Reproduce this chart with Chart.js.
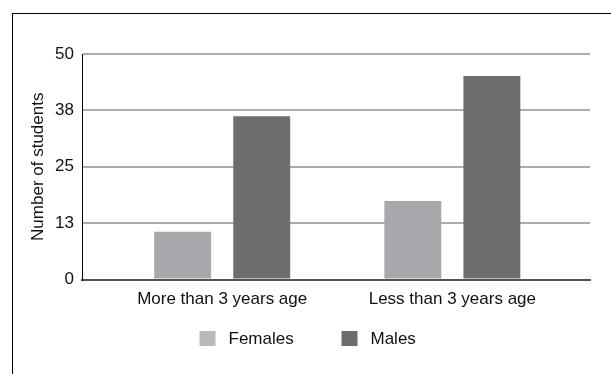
<!DOCTYPE html>
<html>
<head>
<meta charset="utf-8">
<script src="https://cdn.jsdelivr.net/npm/chart.js@4/dist/chart.umd.min.js"></script>
<style>
  html, body { margin: 0; padding: 0; background: #fff; }
  #wrap { position: relative; width: 611px; height: 374px; }
  #frame {
    position: absolute; left: 12px; top: 13px; right: 0; bottom: 0;
    border-top: 1.5px solid #000; border-left: 1.5px solid #000;
  }
  canvas { position: absolute; left: 0; top: 0; }
</style>
</head>
<body>
<div id="wrap">
  <div id="frame"></div>
  <canvas id="myChart" width="611" height="374"></canvas>
</div>
<script>
const categories = ['More than 3 years age', 'Less than 3 years age'];
const females = [10.6, 17.4];
const males = [36.2, 45.1];
const yTicks = [0, 12.5, 25, 37.5, 50];

const FONT = "'Liberation Sans', Arial, sans-serif";
const TEXT = '#111';

// legend drawn under the axis, items spaced like the original
const bottomLegend = {
  id: 'bottomLegend',
  afterDraw(chart) {
    const ctx = chart.ctx;
    const y = 331;
    let x = chart.width / 2 - 106;
    ctx.save();
    ctx.font = '17px ' + FONT;
    ctx.textBaseline = 'middle';
    chart.data.datasets.forEach((ds) => {
      ctx.fillStyle = ds.legendColor;
      ctx.fillRect(x, y, 16, 15);
      ctx.fillStyle = TEXT;
      ctx.fillText(ds.label, x + 29, y + 8);
      x += 142;
    });
    ctx.restore();
  },
};

const ctx = document.getElementById('myChart').getContext('2d');
new Chart(ctx, {
  type: 'bar',
  data: {
    datasets: [
      {
        label: 'Females',
        data: females.map((v, i) => ({ x: i, y: v })),
        backgroundColor: '#a7a8ab',
        legendColor: '#b8b9bd',
      },
      {
        label: 'Males',
        data: males.map((v, i) => ({ x: i, y: v })),
        backgroundColor: '#6c6d6f',
        legendColor: '#6c6d6f',
      },
    ],
  },
  options: {
    responsive: false,
    animation: false,
    layout: { padding: { left: 20, right: 21, top: 54, bottom: 60.5 } },
    datasets: { bar: { categoryPercentage: 0.687, barPercentage: 0.72 } },
    plugins: { legend: { display: false }, tooltip: { enabled: false } },
    scales: {
      x: {
        type: 'linear',
        min: -0.609,
        max: 1.598,
        offset: false,
        grid: { display: false },
        border: { color: '#555', width: 2 },
        afterBuildTicks: (s) => { s.ticks = categories.map((c, i) => ({ value: i })); },
        afterFit: (s) => { s.height = 34; },
        ticks: {
          autoSkip: false,
          maxRotation: 0,
          padding: 2,
          color: TEXT,
          font: { family: FONT, size: 17 },
          callback: (v) => categories[v] ?? '',
        },
      },
      y: {
        min: 0,
        max: 50,
        afterBuildTicks: (s) => { s.ticks = yTicks.map((v) => ({ value: v })); },
        afterFit: (s) => { s.width = 62; },
        grid: { color: '#acacb0', lineWidth: 2, drawTicks: false },
        border: { color: '#000', width: 1 },
        ticks: {
          padding: 8,
          color: TEXT,
          font: { family: FONT, size: 17 },
          callback: (v) => Math.round(v),
        },
        title: {
          display: true,
          text: 'Number of students',
          color: TEXT,
          font: { family: FONT, size: 17 },
          padding: { top: 8, bottom: 0 },
        },
      },
    },
  },
  plugins: [bottomLegend],
});
</script>
</body>
</html>
